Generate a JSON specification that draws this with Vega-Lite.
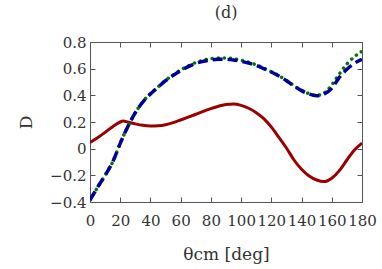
{
  "$schema": "https://vega.github.io/schema/vega-lite/v6.json",
  "width": 272,
  "height": 160,
  "padding": {"left": 17, "top": 5, "right": 7, "bottom": 5},
  "background": "white",
  "title": {"text": "(d)", "font": "DejaVu Serif", "fontSize": 16, "fontWeight": "normal", "color": "#333", "offset": 14},
  "config": {
    "view": {"stroke": "#555", "strokeWidth": 1},
    "axis": {"grid": false, "domain": false, "tickColor": "#555", "tickSize": -5, "labelFont": "DejaVu Serif", "labelFontSize": 15, "labelColor": "#333", "titleFont": "DejaVu Serif", "titleFontWeight": "normal", "titleColor": "#333", "titleFontSize": 17}
  },
  "datasets": {
    "curves": [
      {"t": 0, "D": 0.046, "s": "red"}, {"t": 5, "D": 0.082, "s": "red"}, {"t": 10, "D": 0.122, "s": "red"}, {"t": 15, "D": 0.165, "s": "red"}, {"t": 20, "D": 0.2, "s": "red"}, {"t": 22, "D": 0.207, "s": "red"}, {"t": 25, "D": 0.2, "s": "red"}, {"t": 30, "D": 0.186, "s": "red"}, {"t": 35, "D": 0.175, "s": "red"}, {"t": 40, "D": 0.17, "s": "red"}, {"t": 45, "D": 0.172, "s": "red"}, {"t": 50, "D": 0.18, "s": "red"}, {"t": 55, "D": 0.195, "s": "red"}, {"t": 60, "D": 0.215, "s": "red"}, {"t": 65, "D": 0.236, "s": "red"}, {"t": 70, "D": 0.258, "s": "red"}, {"t": 75, "D": 0.28, "s": "red"}, {"t": 80, "D": 0.3, "s": "red"}, {"t": 85, "D": 0.318, "s": "red"}, {"t": 90, "D": 0.332, "s": "red"}, {"t": 95, "D": 0.335, "s": "red"}, {"t": 100, "D": 0.325, "s": "red"}, {"t": 105, "D": 0.303, "s": "red"}, {"t": 110, "D": 0.27, "s": "red"}, {"t": 115, "D": 0.225, "s": "red"}, {"t": 120, "D": 0.162, "s": "red"}, {"t": 125, "D": 0.085, "s": "red"}, {"t": 130, "D": 0.005, "s": "red"}, {"t": 135, "D": -0.085, "s": "red"}, {"t": 140, "D": -0.155, "s": "red"}, {"t": 145, "D": -0.205, "s": "red"}, {"t": 150, "D": -0.235, "s": "red"}, {"t": 155, "D": -0.247, "s": "red"}, {"t": 160, "D": -0.222, "s": "red"}, {"t": 165, "D": -0.165, "s": "red"}, {"t": 170, "D": -0.085, "s": "red"}, {"t": 175, "D": -0.01, "s": "red"}, {"t": 180, "D": 0.042, "s": "red"},
      {"t": 0, "D": -0.385, "s": "green"}, {"t": 5, "D": -0.29, "s": "green"}, {"t": 10, "D": -0.2, "s": "green"}, {"t": 15, "D": -0.1, "s": "green"}, {"t": 20, "D": 0.04, "s": "green"}, {"t": 25, "D": 0.165, "s": "green"}, {"t": 30, "D": 0.27, "s": "green"}, {"t": 35, "D": 0.352, "s": "green"}, {"t": 40, "D": 0.413, "s": "green"}, {"t": 45, "D": 0.463, "s": "green"}, {"t": 50, "D": 0.513, "s": "green"}, {"t": 55, "D": 0.553, "s": "green"}, {"t": 60, "D": 0.59, "s": "green"}, {"t": 65, "D": 0.62, "s": "green"}, {"t": 70, "D": 0.646, "s": "green"}, {"t": 75, "D": 0.663, "s": "green"}, {"t": 80, "D": 0.675, "s": "green"}, {"t": 85, "D": 0.68, "s": "green"}, {"t": 90, "D": 0.68, "s": "green"}, {"t": 95, "D": 0.674, "s": "green"}, {"t": 100, "D": 0.663, "s": "green"}, {"t": 105, "D": 0.648, "s": "green"}, {"t": 110, "D": 0.628, "s": "green"}, {"t": 115, "D": 0.603, "s": "green"}, {"t": 120, "D": 0.577, "s": "green"}, {"t": 125, "D": 0.547, "s": "green"}, {"t": 130, "D": 0.512, "s": "green"}, {"t": 135, "D": 0.472, "s": "green"}, {"t": 140, "D": 0.437, "s": "green"}, {"t": 145, "D": 0.412, "s": "green"}, {"t": 150, "D": 0.4, "s": "green"}, {"t": 155, "D": 0.418, "s": "green"}, {"t": 160, "D": 0.478, "s": "green"}, {"t": 165, "D": 0.56, "s": "green"}, {"t": 170, "D": 0.635, "s": "green"}, {"t": 175, "D": 0.69, "s": "green"}, {"t": 180, "D": 0.73, "s": "green"},
      {"t": 0, "D": -0.385, "s": "blue"}, {"t": 5, "D": -0.29, "s": "blue"}, {"t": 10, "D": -0.2, "s": "blue"}, {"t": 15, "D": -0.1, "s": "blue"}, {"t": 20, "D": 0.04, "s": "blue"}, {"t": 25, "D": 0.165, "s": "blue"}, {"t": 30, "D": 0.27, "s": "blue"}, {"t": 35, "D": 0.35, "s": "blue"}, {"t": 40, "D": 0.41, "s": "blue"}, {"t": 45, "D": 0.46, "s": "blue"}, {"t": 50, "D": 0.51, "s": "blue"}, {"t": 55, "D": 0.55, "s": "blue"}, {"t": 60, "D": 0.585, "s": "blue"}, {"t": 65, "D": 0.615, "s": "blue"}, {"t": 70, "D": 0.64, "s": "blue"}, {"t": 75, "D": 0.655, "s": "blue"}, {"t": 80, "D": 0.665, "s": "blue"}, {"t": 85, "D": 0.67, "s": "blue"}, {"t": 90, "D": 0.67, "s": "blue"}, {"t": 95, "D": 0.665, "s": "blue"}, {"t": 100, "D": 0.655, "s": "blue"}, {"t": 105, "D": 0.642, "s": "blue"}, {"t": 110, "D": 0.625, "s": "blue"}, {"t": 115, "D": 0.6, "s": "blue"}, {"t": 120, "D": 0.575, "s": "blue"}, {"t": 125, "D": 0.545, "s": "blue"}, {"t": 130, "D": 0.51, "s": "blue"}, {"t": 135, "D": 0.47, "s": "blue"}, {"t": 140, "D": 0.435, "s": "blue"}, {"t": 145, "D": 0.41, "s": "blue"}, {"t": 150, "D": 0.397, "s": "blue"}, {"t": 155, "D": 0.41, "s": "blue"}, {"t": 160, "D": 0.452, "s": "blue"}, {"t": 165, "D": 0.535, "s": "blue"}, {"t": 170, "D": 0.595, "s": "blue"}, {"t": 175, "D": 0.64, "s": "blue"}, {"t": 180, "D": 0.67, "s": "blue"}
    ]
  },
  "data": {"name": "curves"},
  "layer": [
    {
      "transform": [{"filter": "datum.s === 'red'"}],
      "mark": {"type": "line", "color": "#990000", "strokeWidth": 3, "interpolate": "monotone", "clip": true},
      "encoding": {
        "x": {"field": "t", "type": "quantitative", "scale": {"domain": [0, 180], "nice": false},
          "axis": {"orient": "bottom", "values": [0, 20, 40, 60, 80, 100, 120, 140, 160, 180], "labelPadding": 16, "title": "θcm [deg]", "titlePadding": 18, "labelFlush": false}},
        "y": {"field": "D", "type": "quantitative", "scale": {"domain": [-0.4, 0.8], "nice": false, "zero": false},
          "axis": {"orient": "left", "values": [-0.4, -0.2, 0, 0.2, 0.4, 0.6, 0.8], "labelPadding": 9, "title": "D", "titlePadding": 14, "labelFlush": false,
            "labelExpr": "datum.value === 0 ? '0' : replace(format(datum.value, '.1f'), '-', '\u2212')"}}
      }
    },
    {
      "transform": [{"filter": "datum.s === 'green'"}],
      "mark": {"type": "line", "color": "#007700", "strokeWidth": 3.5, "strokeDash": [0.1, 6], "strokeCap": "round", "interpolate": "monotone", "clip": true},
      "encoding": {
        "x": {"field": "t", "type": "quantitative", "axis": {"orient": "top", "values": [0, 20, 40, 60, 80, 100, 120, 140, 160, 180], "labels": false, "title": null}},
        "y": {"field": "D", "type": "quantitative", "axis": {"orient": "right", "values": [-0.4, -0.2, 0, 0.2, 0.4, 0.6, 0.8], "labels": false, "title": null}}
      }
    },
    {
      "transform": [{"filter": "datum.s === 'blue'"}],
      "mark": {"type": "line", "color": "#000099", "strokeWidth": 3.5, "strokeDash": [10, 5], "interpolate": "monotone", "clip": true},
      "encoding": {
        "x": {"field": "t", "type": "quantitative", "axis": null},
        "y": {"field": "D", "type": "quantitative", "axis": null}
      }
    }
  ],
  "resolve": {"axis": {"x": "independent", "y": "independent"}}
}
